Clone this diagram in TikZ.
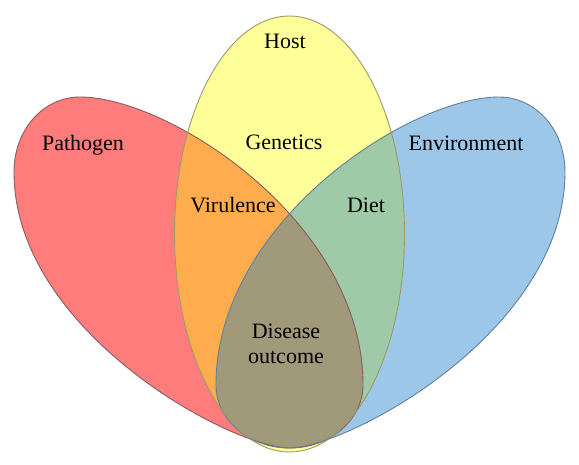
\documentclass[tikz,border=0pt]{standalone}
\usepackage{fontspec}
\setmainfont{Liberation Serif}
\definecolor{redc}{HTML}{FF7C7C}
\definecolor{yellowc}{HTML}{FFFF99}
\definecolor{bluec}{HTML}{9DC7E8}
\definecolor{orangec}{HTML}{FFAC4E}
\definecolor{greenc}{HTML}{9FCAA7}
\definecolor{brownc}{HTML}{A09A7B}
\definecolor{redline}{HTML}{8A5C5C}
\definecolor{yellowline}{HTML}{9A9A6A}
\definecolor{blueline}{HTML}{63809A}
\begin{document}
\begin{tikzpicture}[x=1pt,y=-1pt,
  lbl/.style={anchor=base,inner sep=0pt,font=\fontsize{22}{26}\selectfont},
  mirror/.style={shift={(579,0)},xscale=-1},
  outl/.style={line width=0.9pt}]
\useasboundingbox[fill=white] (0,0) rectangle (579,465);
\def\eggp{(80,97) .. controls (169,97) and (363,222) .. (363,385)
  .. controls (363,420) and (330,448) .. (290,448)
  .. controls (231,448) and (14,331) .. (14,172)
  .. controls (14,129) and (44,97) .. (80,97) -- cycle}
\def\yellowp{(289.5,234) ellipse [x radius=115pt, y radius=218pt]}
% base fills
\fill[redc] \eggp;
\fill[bluec,mirror] \eggp;
\fill[yellowc] \yellowp;
% red & yellow
\begin{scope}
  \clip \eggp;
  \fill[orangec] \yellowp;
\end{scope}
% blue & yellow
\begin{scope}
  \clip[mirror] \eggp;
  \fill[greenc] \yellowp;
\end{scope}
% all three
\begin{scope}
  \clip \eggp;
  \clip[mirror] \eggp;
  \fill[brownc] \yellowp;
\end{scope}
% outlines
\draw[redline,outl] \eggp;
\draw[blueline,outl,mirror] \eggp;
\draw[yellowline,outl] \yellowp;
% labels
\node[lbl] (host) at (285,49) {Host};
\node[lbl] (pathogen) at (83,151) {Pathogen};
\node[lbl] (genetics) at (284,150) {Genetics};
\node[lbl] (environment) at (466,151) {Environment};
\node[lbl] (virulence) at (233,213) {Virulence};
\node[lbl] (diet) at (366,213) {Diet};
\node[lbl] (disease) at (286,339) {Disease};
\node[lbl] (outcome) at (286,364) {outcome};
\end{tikzpicture}
\end{document}
